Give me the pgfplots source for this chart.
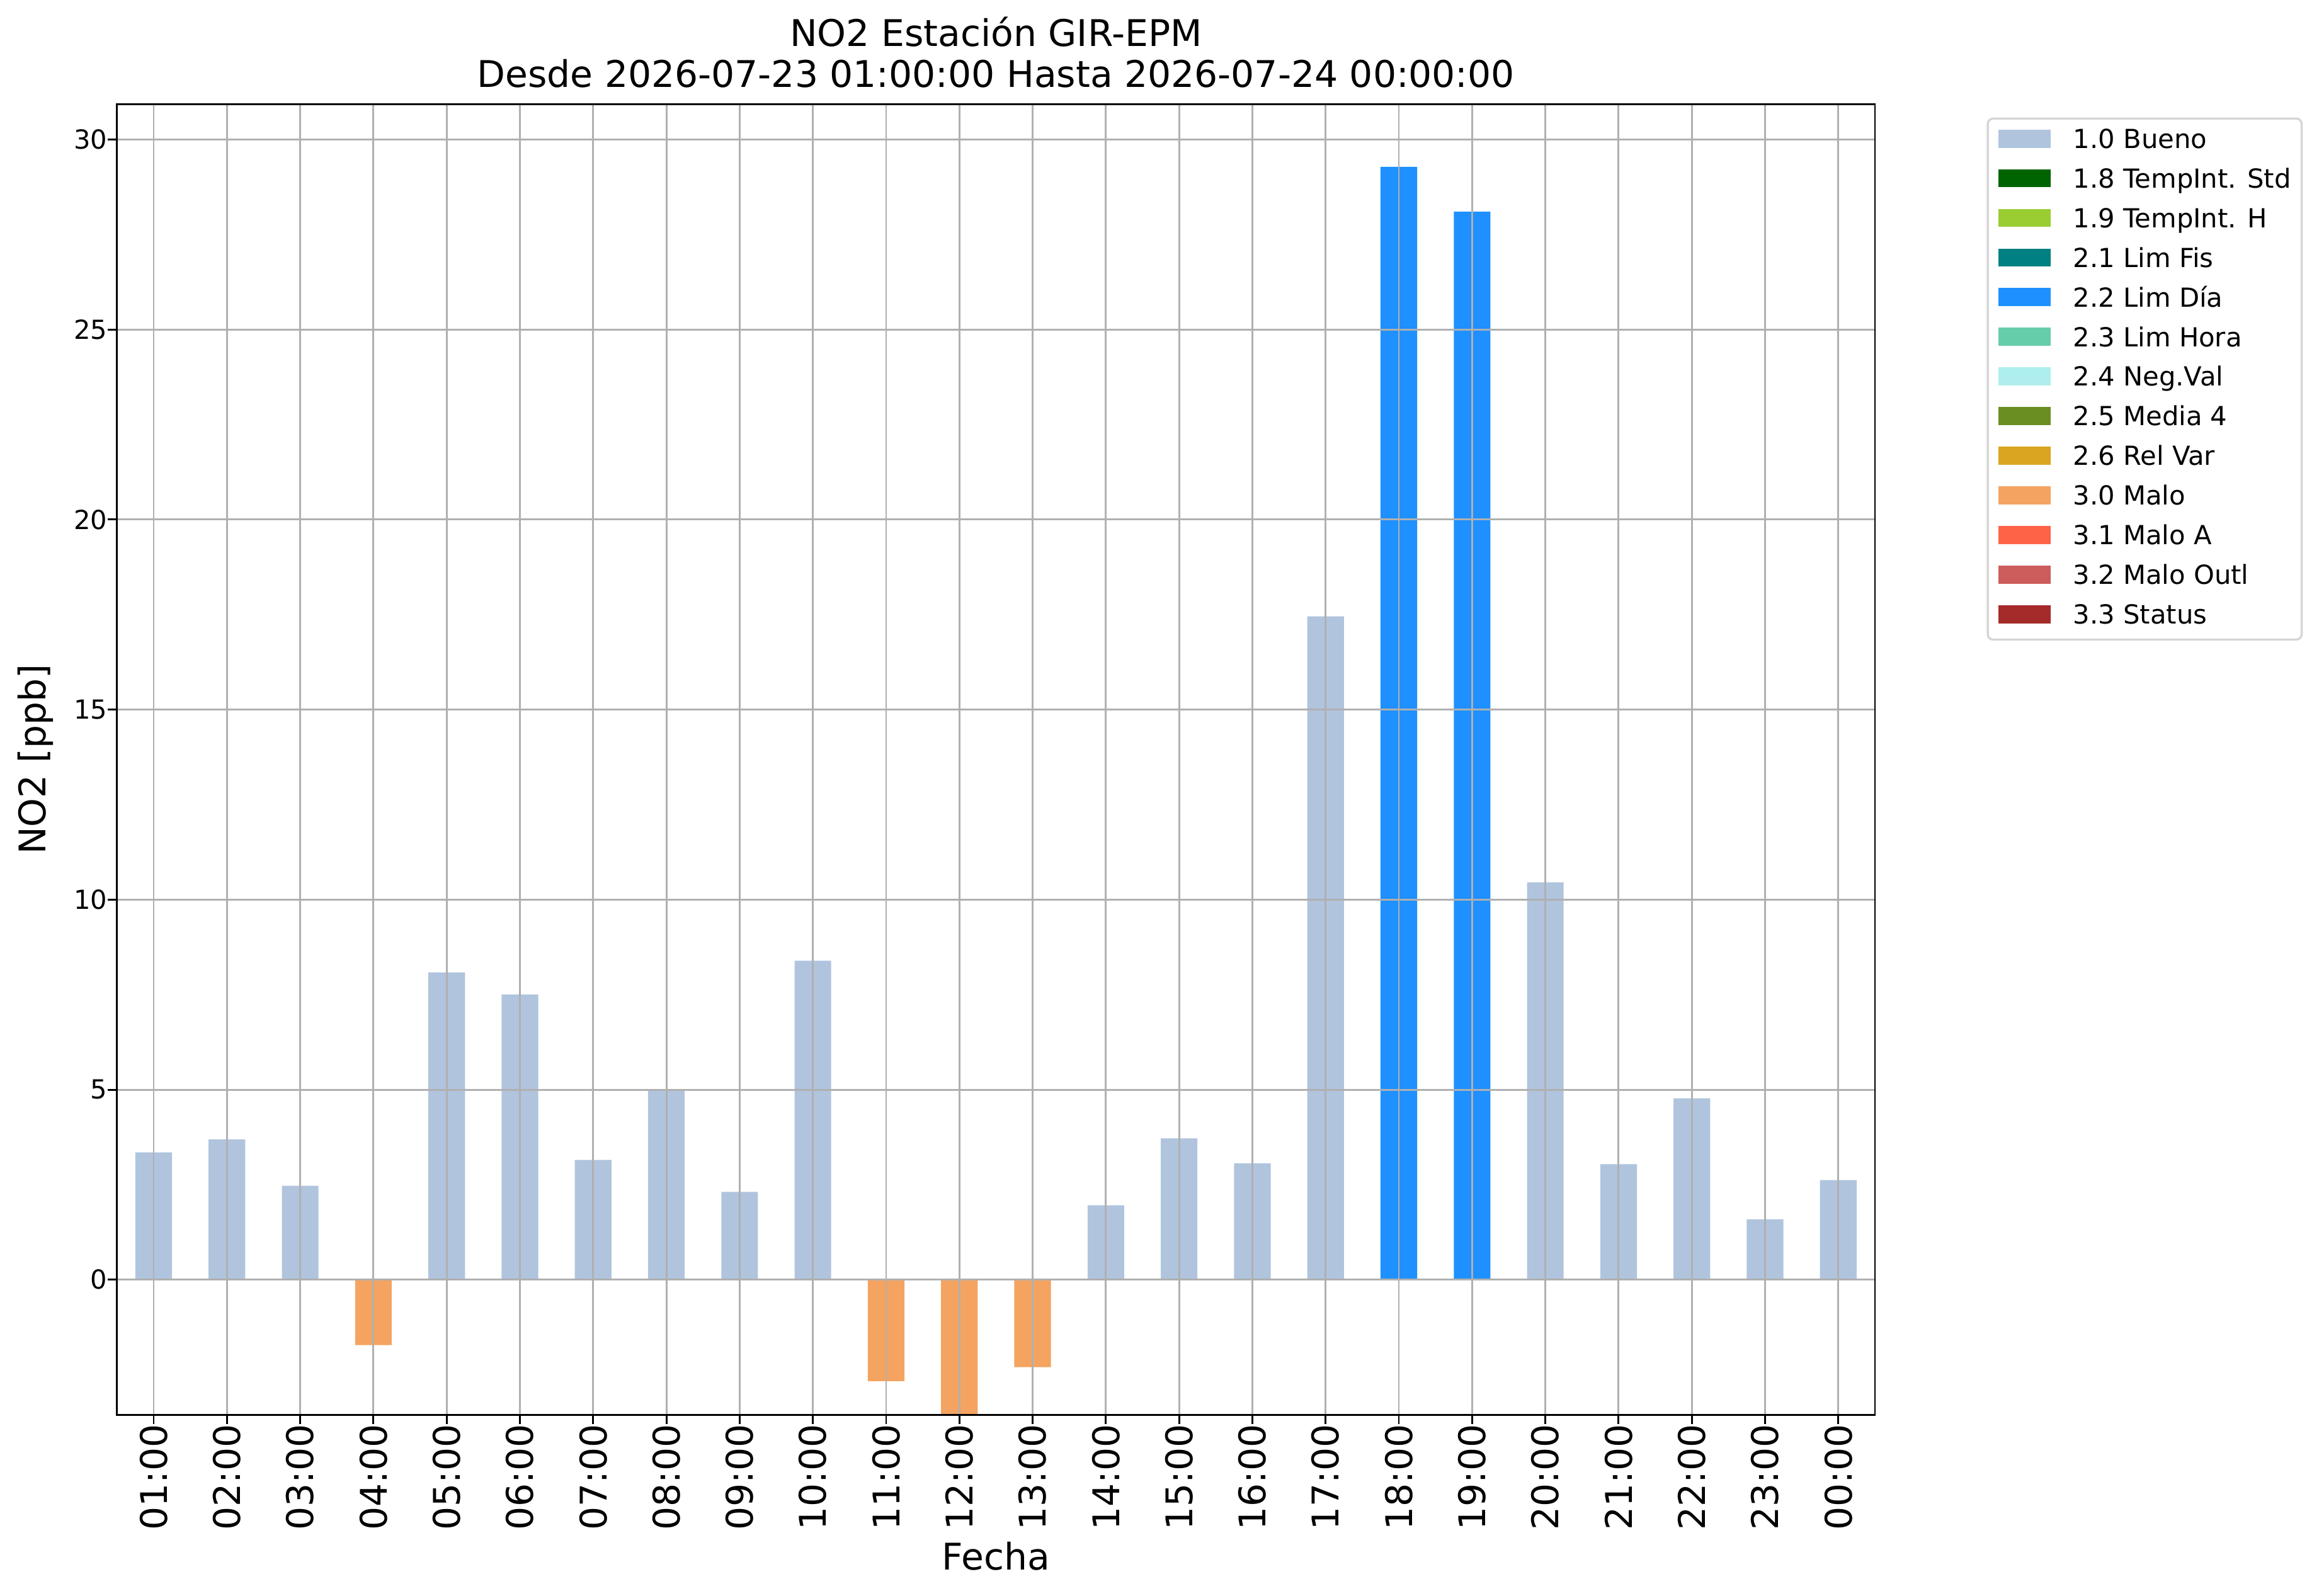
\documentclass[border=0pt]{standalone}
\usepackage{fontspec}
\setmainfont{DejaVu Sans}
\usepackage{pgfplots}
\pgfplotsset{compat=1.18}
\definecolor{cBueno}{HTML}{B0C4DE}
\definecolor{cStd}{HTML}{006400}
\definecolor{cH}{HTML}{9ACD32}
\definecolor{cFis}{HTML}{008080}
\definecolor{cDia}{HTML}{1E90FF}
\definecolor{cHora}{HTML}{66CDAA}
\definecolor{cNeg}{HTML}{AFEEEE}
\definecolor{cMedia}{HTML}{6B8E23}
\definecolor{cRel}{HTML}{DAA520}
\definecolor{cMalo}{HTML}{F4A460}
\definecolor{cMaloA}{HTML}{FF6347}
\definecolor{cOutl}{HTML}{CD5C5C}
\definecolor{cStatus}{HTML}{A52A2A}
\definecolor{gridgray}{HTML}{B0B0B0}
\definecolor{legframe}{HTML}{D5D5D5}
\pgfplotsset{legbox/.style={legend image code/.code={\fill[##1,draw=none,sharp corners] (0pt,-2.45pt) rectangle (20pt,4.45pt);}}}
\begin{document}
\begin{tikzpicture}
\begin{axis}[
  scale only axis, width=669.8pt, height=499.2pt,
  xmin=-0.5, xmax=23.5, ymin=-3.55, ymax=30.92,
  xtick={0,...,23},
  xticklabels={01:00,02:00,03:00,04:00,05:00,06:00,07:00,08:00,09:00,10:00,11:00,12:00,13:00,14:00,15:00,16:00,17:00,18:00,19:00,20:00,21:00,22:00,23:00,00:00},
  ytick={0,5,...,30},
  /pgf/number format/assume math mode=true,
  grid=major, major grid style={color=gridgray, line width=0.7pt},
  axis line style={line width=0.7pt},
  tick style={line width=0.7pt, color=black},
  tick align=outside, tick pos=left, major tick length=3.5pt,
  axis on top,
  xticklabel style={rotate=90, anchor=east, inner sep=0pt, font=\fontsize{14}{16}\selectfont},
  yticklabel style={inner sep=0pt, font=\fontsize{10}{12}\selectfont},
  every axis title/.style={at={(axis description cs:0.5,1)}, anchor=south, align=center, inner sep=0pt, yshift=6.2pt, font=\fontsize{14}{15.6}\selectfont},
  title={NO2 Estación GIR-EPM\\Desde 2026-07-23 01:00:00 Hasta 2026-07-24 00:00:00},
  xlabel={Fecha},
  every axis x label/.style={at={(axis description cs:0.5,-0.1078)}, anchor=center, font=\fontsize{14}{16}\selectfont},
  ylabel={NO2 [ppb]},
  every axis y label/.style={at={(axis description cs:-0.0463,0.5)}, rotate=90, anchor=center, font=\fontsize{14}{16}\selectfont},
  legend cell align=left,
  legend style={at={(axis description cs:1.0636,0.99)}, anchor=north west,
    draw=legframe, line width=0.8pt, rounded corners=2pt,
    inner xsep=4pt, inner ysep=4pt, row sep=5.8pt, column sep=8.6pt,
    font=\fontsize{10}{12}\selectfont,
    nodes={inner sep=0pt, text height=7.3pt, text depth=2pt}},
]
\addplot[ybar, bar width=0.5, bar shift=0pt, fill=cBueno, draw=none, legbox] coordinates {
(0,3.35) (1,3.69) (2,2.47) (4,8.08) (5,7.50) (6,3.15) (7,4.99) (8,2.31) (9,8.39)
(13,1.96) (14,3.72) (15,3.06) (16,17.45) (19,10.45) (20,3.04) (21,4.77) (22,1.59) (23,2.62)};
\addlegendentry{1.0 Bueno}
\addlegendimage{legbox, fill=cStd}
\addlegendentry{1.8 TempInt. Std}
\addlegendimage{legbox, fill=cH}
\addlegendentry{1.9 TempInt. H}
\addlegendimage{legbox, fill=cFis}
\addlegendentry{2.1 Lim Fis}
\addplot[ybar, bar width=0.5, bar shift=0pt, fill=cDia, draw=none, legbox] coordinates {
(17,29.28) (18,28.10)};
\addlegendentry{2.2 Lim Día}
\addlegendimage{legbox, fill=cHora}
\addlegendentry{2.3 Lim Hora}
\addlegendimage{legbox, fill=cNeg}
\addlegendentry{2.4 Neg.Val}
\addlegendimage{legbox, fill=cMedia}
\addlegendentry{2.5 Media 4}
\addlegendimage{legbox, fill=cRel}
\addlegendentry{2.6 Rel Var}
\addplot[ybar, bar width=0.5, bar shift=0pt, fill=cMalo, draw=none, legbox] coordinates {
(3,-1.72) (10,-2.67) (11,-3.9) (12,-2.30)};
\addlegendentry{3.0 Malo}
\addlegendimage{legbox, fill=cMaloA}
\addlegendentry{3.1 Malo A}
\addlegendimage{legbox, fill=cOutl}
\addlegendentry{3.2 Malo Outl}
\addlegendimage{legbox, fill=cStatus}
\addlegendentry{3.3 Status}
\end{axis}
\pgfresetboundingbox
\path[use as bounding box] (-44.6pt,-69.1pt) rectangle (839pt,539pt);
\end{tikzpicture}
\end{document}
